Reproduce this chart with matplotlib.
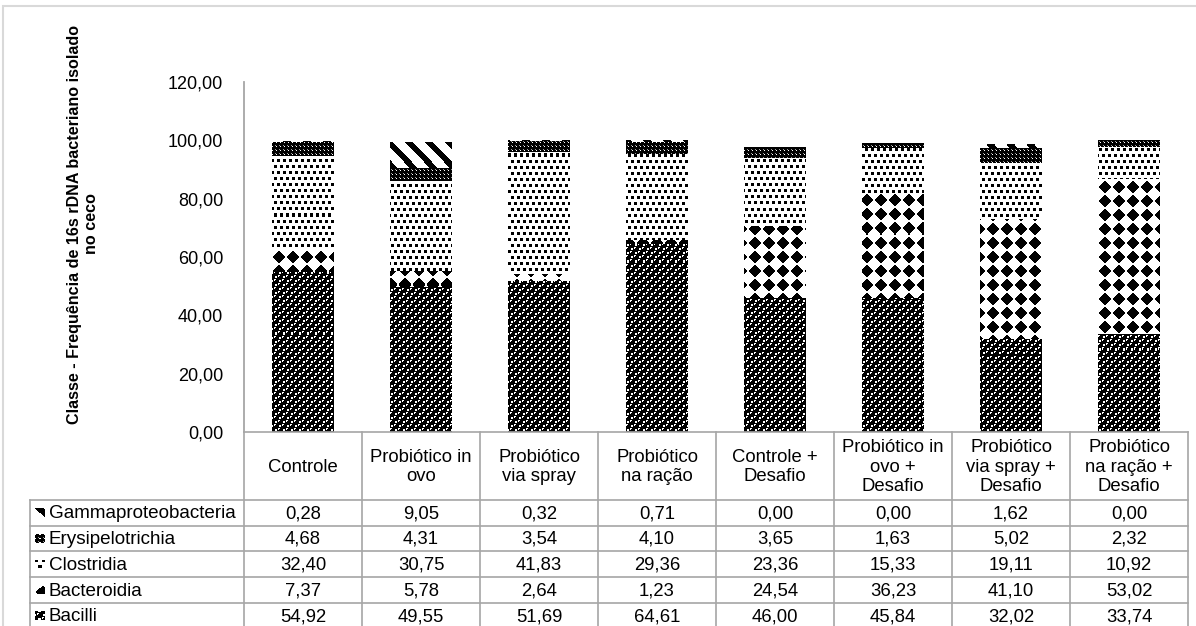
import numpy as np
import matplotlib
matplotlib.use("Agg")
import matplotlib.pyplot as plt
from matplotlib.patches import Rectangle
from matplotlib.lines import Line2D

plt.rcParams['font.family'] = ['Liberation Sans', 'DejaVu Sans']

# ---- data -------------------------------------------------------------
groups = ["Controle", "Probiótico in\novo", "Probiótico\nvia spray",
          "Probiótico\nna ração", "Controle +\nDesafio",
          "Probiótico in\novo +\nDesafio", "Probiótico\nvia spray +\nDesafio",
          "Probiótico\nna ração +\nDesafio"]
classes = ["Bacilli", "Bacteroidia", "Clostridia", "Erysipelotrichia",
           "Gammaproteobacteria"]
bacilli = [54.92, 49.55, 51.69, 64.61, 46.00, 45.84, 32.02, 33.74]
bacteroidia = [7.37, 5.78, 2.64, 1.23, 24.54, 36.23, 41.10, 53.02]
clostridia = [32.40, 30.75, 41.83, 29.36, 23.36, 15.33, 19.11, 10.92]
erysipelotrichia = [4.68, 4.31, 3.54, 4.10, 3.65, 1.63, 5.02, 2.32]
gammaproteobacteria = [0.28, 9.05, 0.32, 0.71, 0.00, 0.00, 1.62, 0.00]
yticks = [0, 20, 40, 60, 80, 100, 120]

series = [bacilli, bacteroidia, clostridia, erysipelotrichia, gammaproteobacteria]
table_order = [4, 3, 2, 1, 0]   # table rows, top to bottom


def fmt(v):
    return f"{v:.2f}".replace(".", ",")


# ---- fill textures (1 = white, 0 = black) -----------------------------
def texture(kind, h, w):
    yy, xx = np.mgrid[0:h, 0:w].astype(float) + 0.5
    img = np.ones((h, w))
    if kind == "Bacilli":
        # black balls on a staggered lattice, white gaps between them
        for ox, oy in [(0, 0), (4, 4)]:
            dx = (xx - ox) % 8 - 4
            dy = (yy - oy) % 8 - 4
            img[dx ** 2 + dy ** 2 < 3.0 ** 2] = 0
            img[((dx + 1.2) ** 2 + (dy + 1.2) ** 2) < 0.6] = 1
    elif kind == "Bacteroidia":
        dx = np.abs(xx % 14 - 7)
        dy = np.abs(yy % 14 - 7)
        img[dx + dy < 6.4] = 0
    elif kind == "Clostridia":
        row = np.floor(yy / 6)
        shift = (row % 2) * 3
        dx = (xx + shift) % 6
        dy = yy % 6
        img[(dx < 3.0) & (dy < 3.0)] = 0
    elif kind == "Erysipelotrichia":
        img[:] = 0
        img[((xx % 4) < 1.5) & ((yy % 4) < 1.5)] = 1
        img[((xx % 4) > 2.5) & ((yy % 4) > 2.5)] = 0.6
    elif kind == "Gammaproteobacteria":
        img[((xx - yy) % 20) < 8] = 0
    return img


# ---- figure -----------------------------------------------------------
W, H = 1196, 626
fig = plt.figure(figsize=(W / 100, H / 100), dpi=100)


def fx(px):
    return px / W


def fy(py):
    return 1 - py / H


# outer chart-area frame
fig.add_artist(Rectangle((fx(3), fy(640)), fx(1210) - fx(3), fy(6) - fy(640),
                         transform=fig.transFigure, fill=False,
                         edgecolor="#d9d9d9", lw=1.5))

ax_l, ax_r, ax_t, ax_b = 244, 1188, 82, 432
ax = fig.add_axes([fx(ax_l), fy(ax_b), fx(ax_r) - fx(ax_l), fy(ax_t) - fy(ax_b)])
ax.set_facecolor("none")

n = len(groups)
xpos = np.arange(n) + 0.5
bottom = np.zeros(n)
ax_w_px, ax_h_px = ax_r - ax_l, ax_b - ax_t
for name, vals in zip(classes, series):
    bars = ax.bar(xpos, vals, bottom=bottom, width=0.52, color="none",
                  edgecolor="none", zorder=2)
    tex = texture(name, ax_h_px, ax_w_px)
    for patch in bars.patches:
        im = ax.imshow(tex, extent=(0, n, 0, 120), aspect="auto",
                       interpolation="nearest", cmap="gray", vmin=0, vmax=1,
                       zorder=2, origin="upper")
        im.set_clip_path(patch)
    bottom += np.array(vals)

ax.set_xlim(0, n)
ax.set_ylim(0, 120)
ax.set_yticks(yticks)
ax.set_yticklabels([fmt(t) for t in yticks], fontsize=13, color="#000000")
ax.tick_params(axis="y", length=0, pad=15)
ax.set_xticks([])
for s in ["top", "right", "bottom"]:
    ax.spines[s].set_visible(False)
ax.spines["left"].set_color("#a6a6a6")
ax.spines["left"].set_linewidth(1.3)

fig.text(fx(83), fy(224),
         "Classe - Frequência de 16s rDNA bacteriano isolado\nno ceco",
         rotation=90, ha="center", va="center", fontsize=11.6,
         fontweight="bold", linespacing=1.15)

# ---- data table -------------------------------------------------------
col_w = (ax_r - ax_l) / n
row_edges = [500, 525.5, 551, 577, 603, 628.5]
lab_l = 30
line_kw = dict(color="#a6a6a6", lw=1.2, transform=fig.transFigure)


def hline(y, x0, x1):
    fig.add_artist(Line2D([fx(x0), fx(x1)], [fy(y), fy(y)], **line_kw))


def vline(x, y0, y1):
    fig.add_artist(Line2D([fx(x), fx(x)], [fy(y0), fy(y1)], **line_kw))


hline(ax_b, ax_l, ax_r)
for y in row_edges:
    hline(y, lab_l, ax_r)
for k in range(n + 1):
    vline(ax_l + k * col_w, ax_b, row_edges[-1])
vline(lab_l, row_edges[0], row_edges[-1])

for k, g in enumerate(groups):
    fig.text(fx(ax_l + (k + 0.5) * col_w), fy((ax_b + row_edges[0]) / 2 + 1), g,
             ha="center", va="center", fontsize=13.3, linespacing=1.22)

for r, si in enumerate(table_order):
    yc = (row_edges[r] + row_edges[r + 1]) / 2
    # legend key
    key = texture(classes[si], 9, 9)
    kax = fig.add_axes([fx(35), fy(yc + 4.5), fx(9), 9 / H])
    kax.imshow(key, cmap="gray", vmin=0, vmax=1, interpolation="nearest",
               aspect="auto")
    kax.axis("off")
    fig.text(fx(49), fy(yc + 1), classes[si], ha="left", va="center",
             fontsize=13.6)
    for k, v in enumerate(series[si]):
        fig.text(fx(ax_l + (k + 0.5) * col_w), fy(yc + 1), fmt(v),
                 ha="center", va="center", fontsize=13.3)

fig.savefig("out.png", dpi=100)
